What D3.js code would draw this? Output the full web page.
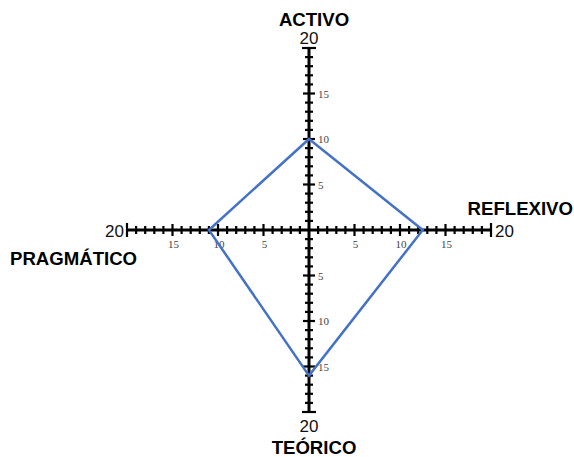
<!DOCTYPE html>
<html>
<head>
<meta charset="utf-8">
<script src="https://cdn.jsdelivr.net/npm/d3@7"></script>
<style>
  body { margin: 0; background: #fff; }
  svg { display: block; }
</style>
</head>
<body>
<svg width="574" height="457"></svg>
<script>
// Axes (clockwise from top) and their scores
let axes   = ["ACTIVO", "REFLEXIVO", "TEÓRICO", "PRAGMÁTICO"];
let scores = [10, 12.5, 16, 11];
let tickLabels = [5, 10, 15];
let maxVal = 20;

let colourLine = "#4472C4";
let cx = 309, cy = 230;

let svg = d3.select("svg");

let r = d3.scaleLinear().domain([0, maxVal]).range([0, 182]);

// direction of each axis: up, right, down, left
let dirs = [[0, -1], [1, 0], [0, 1], [-1, 0]];

let g = svg.append("g");

// axis lines
dirs.forEach(function(d) {
  g.append("line")
    .attr("x1", cx).attr("y1", cy)
    .attr("x2", cx + d[0] * r(maxVal)).attr("y2", cy + d[1] * r(maxVal))
    .attr("stroke", "#000").attr("stroke-width", 3);
});

// ticks
let ticks = d3.range(1, maxVal + 1);
dirs.forEach(function(d) {
  ticks.forEach(function(t) {
    let half = t == maxVal ? 7 : (t % 5 == 0 ? 6 : 4);
    let px = cx + d[0] * r(t), py = cy + d[1] * r(t);
    // perpendicular
    let nx = -d[1], ny = d[0];
    g.append("line")
      .attr("x1", px - nx * half).attr("y1", py - ny * half)
      .attr("x2", px + nx * half).attr("y2", py + ny * half)
      .attr("stroke", "#000").attr("stroke-width", 2.2);
  });
});

// small tick labels
dirs.forEach(function(d) {
  tickLabels.forEach(function(t) {
    let px = cx + d[0] * r(t), py = cy + d[1] * r(t);
    let txt = g.append("text")
      .text(t)
      .attr("font-family", "Liberation Serif, serif")
      .attr("font-size", 11)
      .attr("fill", "#444");
    if (d[0] == 0) {
      txt.attr("x", px + 9).attr("y", py + 4).attr("text-anchor", "start");
    } else {
      txt.attr("x", px + 1).attr("y", py + 18).attr("text-anchor", "middle");
    }
  });
});

// "20" labels at axis ends
let endPos = [
  {x: cx, y: cy - r(maxVal) - 4, a: "middle"},
  {x: cx + r(maxVal) + 4, y: cy + 7, a: "start"},
  {x: cx, y: cy + r(maxVal) + 20, a: "middle"},
  {x: cx - r(maxVal) - 3, y: cy + 7, a: "end"}
];
endPos.forEach(function(p) {
  g.append("text")
    .text(maxVal)
    .attr("x", p.x).attr("y", p.y)
    .attr("text-anchor", p.a)
    .attr("font-family", "Liberation Sans, Arial, sans-serif")
    .attr("font-size", 17)
    .attr("fill", "#111");
});

// axis names
let namePos = [
  {x: cx + 5, y: 26, a: "middle"},
  {x: 573, y: 215, a: "end"},
  {x: cx + 5, y: 454, a: "middle"},
  {x: 10, y: 265, a: "start"}
];
axes.forEach(function(name, i) {
  g.append("text")
    .text(name)
    .attr("x", namePos[i].x).attr("y", namePos[i].y)
    .attr("text-anchor", namePos[i].a)
    .attr("font-family", "Liberation Sans, Arial, sans-serif")
    .attr("font-weight", "bold")
    .attr("font-size", 18.6)
    .attr("fill", "#000");
});

// score polygon
let pts = scores.map(function(v, i) {
  return [cx + dirs[i][0] * r(v), cy + dirs[i][1] * r(v)];
});
svg.append("path")
  .attr("d", d3.line()(pts) + "Z")
  .attr("fill", "none")
  .attr("stroke", colourLine)
  .attr("stroke-width", 2.5)
  .attr("stroke-linejoin", "miter");
</script>
</body>
</html>
